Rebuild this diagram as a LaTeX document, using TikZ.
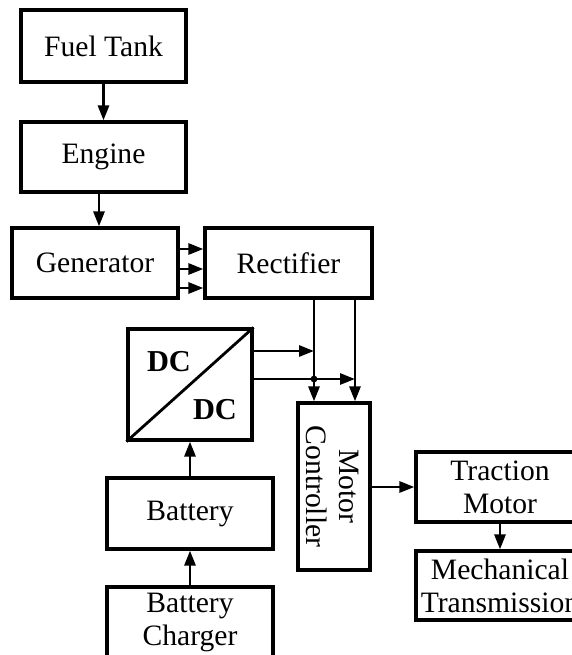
\documentclass[tikz,border=0pt]{standalone}
\usepackage{fontspec}
\setmainfont{Liberation Serif}
\usetikzlibrary{arrows.meta}
\begin{document}
\begin{tikzpicture}[x=0.5pt,y=-0.5pt,
  blk/.style={draw, line width=1.6pt, inner sep=0pt, align=center,
    font=\fontsize{14.8}{16.5}\selectfont},
  arr/.style={line width=1.4pt, -{Triangle[length=7.5pt,width=5.5pt]}},
  ln/.style={line width=1.4pt}]
\useasboundingbox (0,0) rectangle (572,655);
\clip (0,0) rectangle (572,655);
\node[blk, minimum width=82.5pt, minimum height=36pt] (fuel) at (103.5,46) {Fuel Tank};
\node[blk, minimum width=82.5pt, minimum height=35pt] (engine) at (103.5,157) {Engine};
\node[blk, minimum width=83pt, minimum height=35pt] (gen) at (95,263) {Generator};
\node[blk, minimum width=83.5pt, minimum height=35pt] (rect) at (288.5,263) {Rectifier};
\node[blk, minimum width=62pt, minimum height=55.5pt] (dcdc) at (190,384.5) {};
\node[font=\fontsize{15.2}{16}\selectfont\bfseries, inner sep=0pt] (dc1) at (169,362) {DC};
\node[font=\fontsize{15.2}{16}\selectfont\bfseries, inner sep=0pt] (dc2) at (215,410) {DC};
\node[blk, minimum width=36pt, minimum height=83.5pt] (mc) at (334,486.5) {};
\node[font=\fontsize{14.8}{16.5}\selectfont, align=center, rotate=-90] (mctext) at (333,486.5) {Motor\\Controller};
\node[blk, minimum width=84pt, minimum height=35pt] (tm) at (500,487) {Traction\\Motor};
\node[blk, minimum width=84pt, minimum height=34.5pt] (mt) at (500,585.5) {Mechanical\\Transmission};
\node[blk, minimum width=83pt, minimum height=35.5pt] (batt) at (190,513.5) {Battery};
\node[blk, minimum width=83pt, minimum height=35pt] (chg) at (190,622) {Battery\\Charger};
% diagonal
\draw[ln] (dcdc.south west) -- (dcdc.north east);
% arrows
\draw[arr] (fuel.south) -- (engine.north);
\draw[arr] ([xshift=-2.25pt]engine.south) -- ([xshift=-2.25pt]engine.south |- gen.north);
\draw[arr] ([yshift=7pt]gen.east) -- ([yshift=7pt]gen.east -| rect.west);
\draw[arr] ([yshift=-3pt]gen.east) -- ([yshift=-3pt]gen.east -| rect.west);
\draw[arr] ([yshift=-12.5pt]gen.east) -- ([yshift=-12.5pt]gen.east -| rect.west);
\coordinate (r1) at ([xshift=12.75pt]rect.south);
\coordinate (r2) at ([xshift=33.25pt]rect.south);
\draw[arr] (r1) -- (r1 |- mc.north);
\draw[arr] (r2) -- (r2 |- mc.north);
\coordinate (d1) at ([yshift=16.75pt]dcdc.east);
\coordinate (d2) at ([yshift=2.75pt]dcdc.east);
\draw[arr] (d1) -- (d1 -| r1);
\draw[arr] (d2) -- (d2 -| r2);
\fill (d2 -| r1) circle (1.7pt);
\draw[arr] (mc.east |- tm.west) -- (tm.west);
\draw[arr] (tm.south) -- (mt.north);
\draw[arr] (batt.north) -- (batt.north |- dcdc.south);
\draw[arr] (chg.north) -- (batt.south);
\end{tikzpicture}
\end{document}
